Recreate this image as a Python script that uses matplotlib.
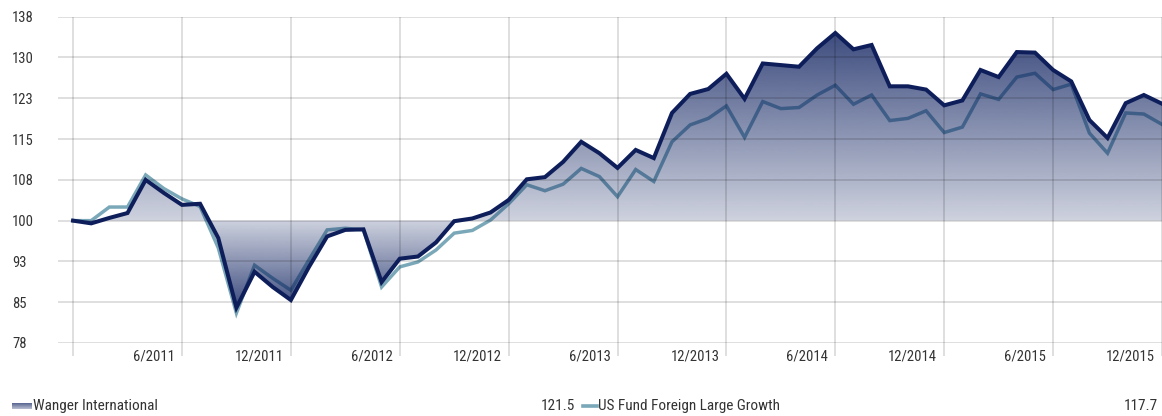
import numpy as np
import matplotlib
matplotlib.use('Agg')
import matplotlib.pyplot as plt
from matplotlib import font_manager
from matplotlib.path import Path
from matplotlib.lines import Line2D
from matplotlib.transforms import ScaledTranslation

# monthly growth of 100, 12/2010 .. 12/2015
wanger = [100.0, 99.5, 100.5, 101.4, 107.5, 105.1, 102.9, 103.1, 96.8, 84.0,
          90.6, 87.8, 85.4, 91.5, 97.1, 98.3, 98.4, 88.7, 93.0, 93.4,
          96.0, 99.9, 100.4, 101.5, 103.8, 107.6, 108.0, 110.8, 114.5, 112.4,
          109.7, 113.0, 111.5, 119.8, 123.3, 124.2, 127.0, 122.4, 128.9, 128.6,
          128.3, 131.7, 134.5, 131.5, 132.3, 124.7, 124.7, 124.1, 121.2, 122.1,
          127.7, 126.4, 131.0, 130.9, 127.7, 125.6, 118.5, 115.2, 121.6, 123.1,
          121.5]
category = [100.0, 100.0, 102.5, 102.5, 108.4, 105.9, 104.0, 102.6, 95.0, 83.0,
            91.8, 89.4, 87.2, 92.8, 98.3, 98.6, 98.3, 87.8, 91.5, 92.4,
            94.6, 97.7, 98.2, 100.1, 103.1, 106.6, 105.5, 106.7, 109.6, 108.1,
            104.4, 109.4, 107.2, 114.5, 117.6, 118.8, 121.1, 115.3, 121.9, 120.6,
            120.8, 123.1, 124.9, 121.4, 123.1, 118.4, 118.8, 120.2, 116.2, 117.2,
            123.3, 122.3, 126.4, 127.1, 124.1, 125.1, 116.1, 112.4, 119.8, 119.6,
            117.7]
months = np.arange(len(wanger))
xtick_pos = np.arange(0, 61, 6)
xtick_labels = ['', '6/2011', '12/2011', '6/2012', '12/2012', '6/2013',
                '12/2013', '6/2014', '12/2014', '6/2015', '12/2015']
ytick_vals = [77.5, 85, 92.5, 100, 107.5, 115, 122.5, 130, 137.5]
ytick_labels = ['78', '85', '93', '100', '108', '115', '123', '130', '138']
legend_names = ['Wanger International', 'US Fund Foreign Large Growth']
legend_values = ['121.5', '117.7']

# condensed font if there is one
fonts = font_manager.fontManager.ttflist
fam, stretch = 'DejaVu Sans', 'normal'
names = {f.name for f in fonts}
if 'Roboto Condensed' in names:
    fam = 'Roboto Condensed'
elif 'Liberation Sans Narrow' in names:
    fam = 'Liberation Sans Narrow'
elif any(f.name == 'DejaVu Sans' and f.stretch == 'condensed' for f in fonts):
    stretch = 'condensed'
plt.rcParams['font.family'] = [fam, 'DejaVu Sans']
plt.rcParams['font.stretch'] = stretch

navy = '#0e1e5b'
fillc = np.array([12, 31, 94]) / 255
light = '#7aa8b8'
txt = '#333333'
gridc = (0, 0, 0, 0.13)

W, H = 1162, 416
fig = plt.figure(figsize=(W / 100, H / 100), dpi=100)
ax = fig.add_axes([58 / W, 1 - 343 / H, 1 - 58 / W, (343 - 16.7) / H])

x = months.astype(float)
y = np.array(wanger)

ax.plot(x, category, color=light, lw=2.5, zorder=2, solid_joinstyle='miter')


def grad_fill(ax, where, lo, hi, a_lo, a_hi):
    coll = ax.fill_between(x, y, 100, where=where, interpolate=True,
                           facecolor='none', edgecolor='none')
    clip = Path.make_compound_path(*coll.get_paths())
    alpha = np.linspace(a_lo, a_hi, 256)
    img = np.zeros((256, 1, 4))
    img[:, 0, :3] = fillc
    img[:, 0, 3] = alpha
    im = ax.imshow(img, extent=[x[0], x[-1], lo, hi], origin='lower',
                   aspect='auto', interpolation='bilinear', zorder=3)
    im.set_clip_path(clip, ax.transData)


grad_fill(ax, y >= 100, 100, y.max(), 0.2, 0.8)
grad_fill(ax, y <= 100, y.min(), 100, 0.8, 0.2)

ax.plot(x, y, color=navy, lw=2.9, zorder=5, solid_joinstyle='miter')

ax.set_xlim(-0.83, 60)
ax.set_ylim(77.5, 137.5)
ax.set_xticks(xtick_pos)
ax.set_xticklabels(xtick_labels)
ax.set_yticks(ytick_vals)
ax.set_yticklabels(ytick_labels)
for s in ax.spines.values():
    s.set_visible(False)
ax.grid(True, color='black', alpha=0.13, lw=1.4)
ax.xaxis.set_zorder(4)
ax.yaxis.set_zorder(4)
ax.tick_params(axis='x', length=9.5, width=1.4, color=gridc, pad=-5,
               labelsize=10.5, labelcolor=txt)
ax.tick_params(axis='y', length=0, pad=33, labelsize=10.5, labelcolor=txt)
for lab in ax.get_yticklabels():
    lab.set_horizontalalignment('left')
off = ScaledTranslation(-7 / 100, 0, fig.dpi_scale_trans)
for lab in ax.get_xticklabels():
    lab.set_horizontalalignment('right')
    lab.set_transform(lab.get_transform() + off)

# legend row
ly = 1 - 406 / H
pax = fig.add_axes([12 / W, 1 - 409 / H, 20 / W, 6 / H])
g = np.zeros((16, 1, 4))
g[:, 0, :3] = fillc
g[:, 0, 3] = np.linspace(0.75, 0.3, 16)
pax.imshow(g, aspect='auto', interpolation='bilinear')
pax.axis('off')
fs = 11
fig.text(33 / W, ly, legend_names[0], ha='left', va='center', fontsize=fs, color=txt)
fig.text(575 / W, ly, legend_values[0], ha='right', va='center', fontsize=fs, color=txt)
fig.add_artist(Line2D([583 / W, 597 / W], [ly, ly], color=light, lw=2.6,
                      transform=fig.transFigure))
fig.text(598 / W, ly, legend_names[1], ha='left', va='center', fontsize=fs, color=txt)
fig.text(1158 / W, ly, legend_values[1], ha='right', va='center', fontsize=fs, color=txt)

fig.savefig('out.png', dpi=100, facecolor='white')
